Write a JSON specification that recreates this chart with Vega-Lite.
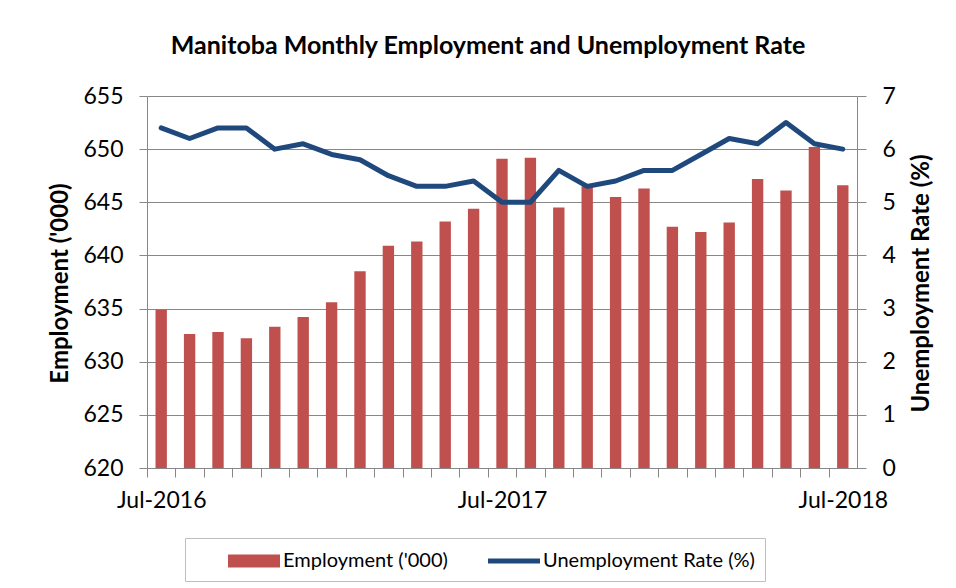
{
  "$schema": "https://vega.github.io/schema/vega-lite/v6.json",
  "width": 710,
  "height": 372,
  "autosize": {"type": "none"},
  "padding": {"left": 147, "top": 96, "right": 99, "bottom": 120},
  "background": "white",
  "title": {
    "text": "Manitoba Monthly Employment and Unemployment Rate",
    "font": "Lato",
    "fontSize": 25,
    "fontWeight": "bold",
    "color": "black",
    "anchor": "middle",
    "frame": "group",
    "baseline": "alphabetic",
    "offset": 6,
    "dx": -14
  },
  "data": {
    "values": [
      {"month": "Jul-2016", "employment": 634.9, "rate": 6.4},
      {"month": "Aug-2016", "employment": 632.6, "rate": 6.2},
      {"month": "Sep-2016", "employment": 632.8, "rate": 6.4},
      {"month": "Oct-2016", "employment": 632.2, "rate": 6.4},
      {"month": "Nov-2016", "employment": 633.3, "rate": 6.0},
      {"month": "Dec-2016", "employment": 634.2, "rate": 6.1},
      {"month": "Jan-2017", "employment": 635.6, "rate": 5.9},
      {"month": "Feb-2017", "employment": 638.5, "rate": 5.8},
      {"month": "Mar-2017", "employment": 640.9, "rate": 5.5},
      {"month": "Apr-2017", "employment": 641.3, "rate": 5.3},
      {"month": "May-2017", "employment": 643.2, "rate": 5.3},
      {"month": "Jun-2017", "employment": 644.4, "rate": 5.4},
      {"month": "Jul-2017", "employment": 649.1, "rate": 5.0},
      {"month": "Aug-2017", "employment": 649.2, "rate": 5.0},
      {"month": "Sep-2017", "employment": 644.5, "rate": 5.6},
      {"month": "Oct-2017", "employment": 646.5, "rate": 5.3},
      {"month": "Nov-2017", "employment": 645.5, "rate": 5.4},
      {"month": "Dec-2017", "employment": 646.3, "rate": 5.6},
      {"month": "Jan-2018", "employment": 642.7, "rate": 5.6},
      {"month": "Feb-2018", "employment": 642.2, "rate": 5.9},
      {"month": "Mar-2018", "employment": 643.1, "rate": 6.2},
      {"month": "Apr-2018", "employment": 647.2, "rate": 6.1},
      {"month": "May-2018", "employment": 646.1, "rate": 6.5},
      {"month": "Jun-2018", "employment": 650.2, "rate": 6.1},
      {"month": "Jul-2018", "employment": 646.6, "rate": 6.0}
    ]
  },
  "encoding": {
    "x": {
      "field": "month",
      "type": "ordinal",
      "sort": null,
      "scale": {"paddingInner": 0.6, "paddingOuter": 0.3},
      "axis": {
        "title": null,
        "labelAngle": 0,
        "labelExpr": "indexof(['Jul-2016','Jul-2017','Jul-2018'], datum.label) >= 0 ? datum.label : ''",
        "tickOffset": -14.2,
        "labelOffset": 14.2,
        "tickSize": 9,
        "labelPadding": 12,
        "labelFontSize": 23,
        "labelFont": "Lato",
        "labelColor": "black",
        "domainColor": "#878787",
        "tickColor": "#878787",
        "labelOverlap": false,
        "labelBound": false
      }
    }
  },
  "layer": [
    {
      "mark": {"type": "bar", "color": "#C0504D"},
      "encoding": {
        "y": {
          "field": "employment",
          "type": "quantitative",
          "scale": {"domain": [620, 655], "zero": false, "nice": false},
          "axis": {
            "title": "Employment ('000)",
            "values": [620, 625, 630, 635, 640, 645, 650, 655],
            "grid": true,
            "gridColor": "#878787",
            "domainColor": "#878787",
            "tickColor": "#878787",
            "tickSize": 8,
            "labelPadding": 16,
            "labelFontSize": 23,
            "labelFont": "Lato",
            "labelColor": "black",
            "titleFont": "Lato",
            "titleFontSize": 24,
            "titleFontWeight": "bold",
            "titleColor": "black",
            "titleAngle": -90,
            "titleBaseline": "middle",
            "titleAlign": "center",
            "titleX": -87,
            "titleY": 187
          }
        },
        "y2": {"datum": 620},
        "color": {
          "datum": "Employment ('000)",
          "scale": {
            "domain": ["Employment ('000)", "Unemployment Rate (%)"],
            "range": ["#C0504D", "#1F497D"]
          },
          "legend": {
            "title": null,
            "orient": "none",
            "direction": "horizontal",
            "legendX": 38,
            "legendY": 442,
            "padding": 10,
            "strokeColor": "#bfbfbf",
            "columnPadding": 7,
            "labelFont": "Lato",
            "labelFontSize": 20,
            "labelColor": "black",
            "labelLimit": 400,
            "labelOffset": 16,
            "symbolSize": 676,
            "symbolOffset": 46,
            "symbolStrokeWidth": 0,
            "encode": {
              "symbols": {
                "update": {
                  "shape": {"signal": "indexof(datum.label, 'Emp') == 0 ? 'M-2,-0.5H2V0.5H-2Z' : 'M-2,-0.19H2V0.19H-2Z'"},
                  "fill": {"scale": "color", "field": "value"},
                  "strokeWidth": {"value": 0},
                  "opacity": {"value": 1}
                }
              }
            }
          }
        }
      }
    },
    {
      "mark": {"type": "line", "strokeWidth": 5, "strokeJoin": "round", "strokeCap": "round"},
      "encoding": {
        "y": {
          "field": "rate",
          "type": "quantitative",
          "scale": {"domain": [0, 7], "nice": false},
          "axis": {
            "title": "Unemployment Rate (%)",
            "orient": "right",
            "values": [0, 1, 2, 3, 4, 5, 6, 7],
            "grid": false,
            "domainColor": "#878787",
            "tickColor": "#878787",
            "tickSize": 9,
            "labelPadding": 16,
            "labelFontSize": 23,
            "labelFont": "Lato",
            "labelColor": "black",
            "titleFont": "Lato",
            "titleFontSize": 24,
            "titleFontWeight": "bold",
            "titleColor": "black",
            "titleAngle": -90,
            "titleBaseline": "middle",
            "titleAlign": "center",
            "titleX": 64,
            "titleY": 187
          }
        },
        "color": {"datum": "Unemployment Rate (%)"}
      }
    }
  ],
  "resolve": {"scale": {"y": "independent"}},
  "config": {
    "view": {"stroke": null},
    "font": "Lato"
  }
}
